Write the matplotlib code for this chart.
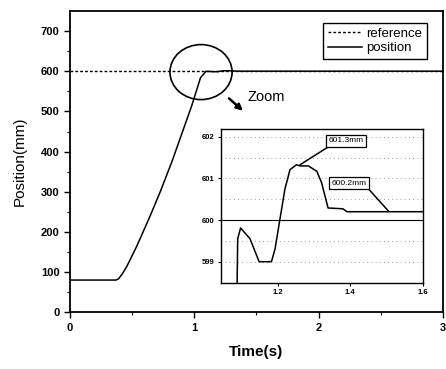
import numpy as np
import matplotlib.pyplot as plt
from matplotlib.patches import Ellipse

plt.rcParams['font.family'] = ['Liberation Sans', 'DejaVu Sans']

# measured position trace (s, mm)
time_s = [0.0, 0.37, 0.39, 0.42, 0.457, 0.538, 0.645, 0.726, 0.82, 0.90, 0.98,
          1.05, 1.087, 1.09, 1.098, 1.124, 1.149, 1.183, 1.193, 1.206, 1.22,
          1.234, 1.252, 1.262, 1.285, 1.308, 1.321, 1.339, 1.38, 1.391, 3.0]
position_mm = [80, 80, 83, 95, 114, 165, 240, 300, 375, 445, 515,
               584, 597.5, 599.55, 599.81, 599.55, 599.0, 599.0, 599.31, 600.0, 600.74,
               601.21, 601.33, 601.3, 601.3, 601.17, 600.9, 600.29, 600.27, 600.2, 600.2]
reference_mm = 600

peak_t, peak_v = 1.262, 601.3
final_t, final_v = 1.505, 600.2

main_xticks = [0, 1, 2, 3]
main_yticks = [0, 100, 200, 300, 400, 500, 600, 700]
inset_xticks = [1.2, 1.4, 1.6]
inset_yticks = [599, 600, 601, 602]

fig = plt.figure(figsize=(4.46, 3.69), dpi=100)
ax = fig.add_axes([0.157, 0.154, 0.836, 0.816])

ax.axhline(reference_mm, color='black', lw=1.0, ls=(0, (2, 1.5)), label='reference')
ax.plot(time_s, position_mm, color='black', lw=1.1, label='position')

ax.set_xlim(0, 3)
ax.set_ylim(0, 750)
ax.set_xticks(main_xticks)
ax.set_yticks(main_yticks)
ax.set_xticks(np.arange(0.5, 3, 1.0), minor=True)
ax.set_yticks(np.arange(50, 750, 100), minor=True)
ax.tick_params(axis='both', which='major', direction='out', length=4, width=1.0,
               labelsize=8)
ax.tick_params(axis='both', which='minor', direction='out', length=2, width=0.8)
for lab in ax.get_xticklabels() + ax.get_yticklabels():
    lab.set_fontweight('bold')
for sp in ax.spines.values():
    sp.set_linewidth(1.3)

ax.set_xlabel('Time(s)', fontsize=11, fontweight='bold', labelpad=9)
ax.set_ylabel('Position(mm)', fontsize=11, labelpad=10)

leg = ax.legend(loc='upper right', bbox_to_anchor=(0.975, 0.982), fontsize=9.5,
                frameon=True, fancybox=False, edgecolor='black', framealpha=1,
                handlelength=2.6, handletextpad=0.3, borderpad=0.35,
                labelspacing=0.15)
leg.get_frame().set_linewidth(1.0)

# circle around the settling region and the arrow to the zoomed view
ax.add_patch(Ellipse((1.054, 598), 0.50, 137, fill=False, color='black', lw=1.2))
ax.annotate('', xy=(1.408, 497), xytext=(1.263, 537),
            arrowprops=dict(arrowstyle='-|>', color='black', lw=1.8,
                            mutation_scale=9))
ax.text(1.424, 537, 'Zoom', fontsize=10.5, va='center', ha='left')

# zoomed inset
axin = fig.add_axes([0.4955, 0.2344, 0.4525, 0.4152])
axin.axhline(reference_mm, color='black', lw=0.8)
axin.plot(time_s, position_mm, color='black', lw=1.1)
axin.set_xlim(1.044, 1.6)
axin.set_ylim(598.545, 602.18)
axin.set_xticks(inset_xticks)
axin.set_yticks(inset_yticks)
axin.set_yticks(np.arange(598.5, 602.5, 0.5), minor=True)
axin.tick_params(axis='both', which='major', direction='out', length=2.5,
                 width=0.8, labelsize=5.5, pad=2)
axin.tick_params(axis='y', which='minor', length=0)
axin.set_xticklabels(['1.2', '1.4', '1.6'], fontweight='bold')
axin.set_yticklabels([str(v) for v in inset_yticks], fontweight='bold')
axin.grid(axis='y', which='both', color='gray', ls=(0, (1, 4)), lw=0.6)
for sp in axin.spines.values():
    sp.set_linewidth(1.0)

box = dict(boxstyle='square,pad=0.3', fc='white', ec='black', lw=0.9)
axin.annotate('601.3mm', xy=(peak_t, peak_v + 0.03), xytext=(1.389, 601.9),
              fontsize=6, ha='center', va='center', bbox=box,
              arrowprops=dict(arrowstyle='-', color='black', lw=1.1,
                              shrinkA=0, shrinkB=0, relpos=(0.1, 0)))
axin.annotate('600.2mm', xy=(final_t, final_v + 0.02), xytext=(1.397, 600.88),
              fontsize=6, ha='center', va='center', bbox=box,
              arrowprops=dict(arrowstyle='-', color='black', lw=1.1,
                              shrinkA=0, shrinkB=0, relpos=(1, 0)))

fig.savefig('out.png', dpi=100)
